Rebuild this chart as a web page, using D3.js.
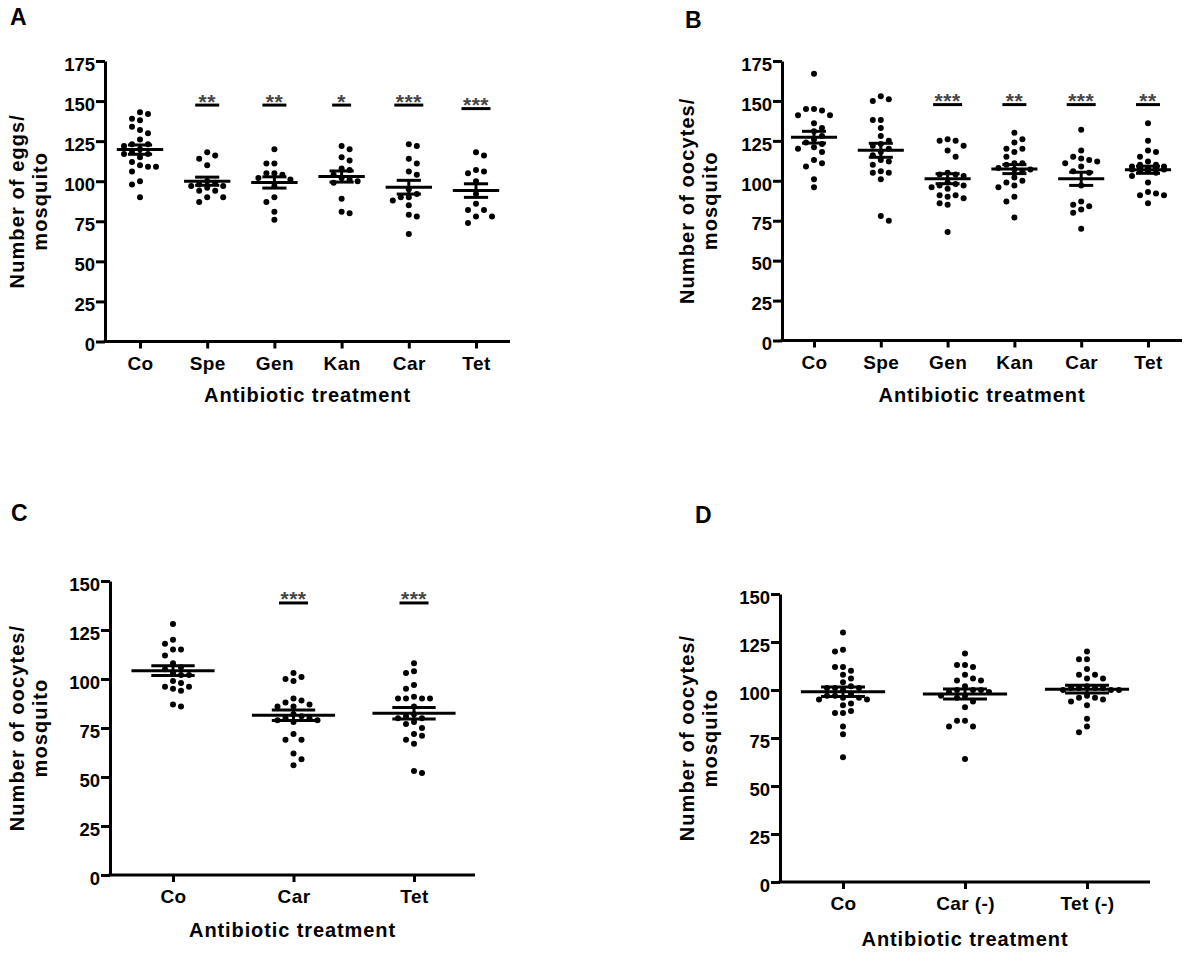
<!DOCTYPE html>
<html><head><meta charset="utf-8">
<script src="https://cdn.jsdelivr.net/npm/d3@7"></script>
<style>
body{margin:0;background:#fff}
text{font-family:"Liberation Sans",Arial,Helvetica,sans-serif;font-weight:bold}
</style>
</head><body>
<svg id="chart" width="1200" height="954"></svg>
<script>
// ---------- DATA ----------
const categoriesA = ["Co","Spe","Gen","Kan","Car","Tet"];
const categoriesB = ["Co","Spe","Gen","Kan","Car","Tet"];
const categoriesC = ["Co","Car","Tet"];
const categoriesD = ["Co","Car (-)","Tet (-)"];

const ticksAB = [0,25,50,75,100,125,150,175];
const ticksCD = [0,25,50,75,100,125,150];

// Panel A: number of eggs / mosquito
const eggsCo  = [143,142,139,138,134,132,130,126,123,123,122,120,118,117,117,115,112,110,109,109,106,100,98,90];
const eggsSpe = [118,116,114,110,100,99,98,97,97,96,94,94,90,90,87];
const eggsGen = [120,111,111,105,105,104,102,101,97,90,87,81,76];
const eggsKan = [122,120,115,113,108,107,104,102,101,100,99,89,81,80];
const eggsCar = [123,122,114,111,106,104,95,92,90,90,88,85,79,78,67];
const eggsTet = [118,116,107,106,105,100,92,86,82,82,78,78,74];
const signifA = ["","**","**","*","***","***"];

// Panel B: number of oocytes / mosquito
const oocB_Co  = [167,145,145,144,141,141,136,133,131,128,126,124,123,121,120,118,113,111,109,101,96];
const oocB_Spe = [153,151,150,138,138,133,128,125,123,122,120,118,116,113,112,110,106,105,105,101,78,75];
const oocB_Gen = [126,125,125,122,119,115,105,104,104,103,99,98,97,97,96,95,91,91,90,89,86,85,68];
const oocB_Kan = [130,126,124,120,120,118,115,111,111,110,108,107,107,106,102,100,99,97,96,90,87,77];
const oocB_Car = [132,119,115,114,113,112,111,109,106,105,97,87,85,84,82,80,70];
const oocB_Tet = [136,125,119,118,115,112,110,110,109,109,108,108,108,107,107,106,106,105,103,99,93,92,91,91,86];
const signifB = ["","","***","**","***","**"];

// Panel C
const oocC_Co  = [128,120,118,115,115,112,108,106,105,103,102,102,99,98,96,96,95,94,87,86];
const oocC_Car = [103,101,100,99,90,89,88,87,86,86,82,81,80,80,79,79,78,72,69,69,62,59,56];
const oocC_Tet = [108,104,103,97,95,91,90,90,90,90,86,82,81,80,80,78,77,75,72,71,69,67,53,52];
const signifC = ["","***","***"];

// Panel D
const oocD_Co  = [130,121,120,112,112,110,108,106,104,102,101,101,101,100,98,97,97,96,96,95,95,93,92,89,88,88,81,77,65];
const oocD_Car = [119,113,113,112,108,106,105,105,102,100,100,100,99,99,97,97,96,94,91,84,84,81,81,64];
const oocD_Tet = [120,116,116,111,108,108,106,106,102,101,101,101,101,100,100,100,97,96,96,95,94,92,85,81,78];
const signifD = ["","",""];

const yTitleA = ["Number of eggs/","mosquito"];
const yTitleOoc = ["Number of oocytes/","mosquito"];
const xTitle = "Antibiotic treatment";

// ---------- LAYOUT ----------
const panels = [
  {letter:"A", lx:10, ly:25, cats:categoriesA, values:[eggsCo,eggsSpe,eggsGen,eggsKan,eggsCar,eggsTet], sig:signifA, sigLevel:[147.5,147.5,147.5,147.5,147.5,145.3],
   max:175, ticks:ticksAB, xAxis:[105,510], catRange:[140,476], yBottom:341.5, yTop:61, yTitle:yTitleA, ytx:[24,47], xtY:402},
  {letter:"B", lx:685, ly:28, cats:categoriesB, values:[oocB_Co,oocB_Spe,oocB_Gen,oocB_Kan,oocB_Car,oocB_Tet], sig:signifB, sigLevel:[147.7,147.7,147.7,147.7,147.7,147.7],
   max:175, ticks:ticksAB, xAxis:[782,1182], catRange:[814,1148], yBottom:340.5, yTop:61, yTitle:yTitleOoc, ytx:[694,717], xtY:402},
  {letter:"C", lx:11, ly:521, cats:categoriesC, values:[oocC_Co,oocC_Car,oocC_Tet], sig:signifC, sigLevel:[138.8,138.8,138.8],
   max:150, ticks:ticksCD, xAxis:[110,475], catRange:[173,414], yBottom:875, yTop:581, yTitle:yTitleOoc, ytx:[24,47], xtY:937},
  {letter:"D", lx:695, ly:523, cats:categoriesD, values:[oocD_Co,oocD_Car,oocD_Tet], sig:signifD, sigLevel:[0,0,0],
   max:150, ticks:ticksCD, xAxis:[780,1150], catRange:[843,1087], yBottom:882, yTop:594, yTitle:yTitleOoc, ytx:[694,717], xtY:946}
];

const svg = d3.select("#chart");
svg.append("rect").attr("width",1200).attr("height",954).attr("fill","#fff");

// simple beeswarm: columns on an 8px grid, limited width
function swarm(vals, y, cx, step, diam, maxK){
  const pts = vals.map(v=>({v, y:y(v)})).sort((a,b)=>a.y-b.y);
  const placed = [];
  pts.forEach((p,i)=>{
    let best = null, bestCost = Infinity;
    for(let k=0;k<=maxK && best===null;k++){
      const cands = k===0 ? [0] : (i%2 ? [k*step,-k*step] : [-k*step,k*step]);
      for(const dx of cands){
        let minD = Infinity;
        placed.forEach(q=>{const d=Math.hypot(q.dx-dx,q.y-p.y); if(d<minD)minD=d;});
        if(minD >= diam){best=dx;break;}
        const cost = -minD + Math.abs(dx)*0.05;
        if(cost<bestCost){bestCost=cost;p._alt=dx;}
      }
    }
    p.dx = best!==null ? best : p._alt;
    placed.push(p);
  });
  return pts.map(p=>({cx:cx+p.dx, cy:p.y}));
}

panels.forEach(p=>{
  const g = svg.append("g");
  const y = d3.scaleLinear().domain([0,p.max]).range([p.yBottom,p.yTop]);
  const x = d3.scalePoint().domain(p.cats).range(p.catRange);
  const step = x.step();

  // y axis
  const ya = g.append("g").attr("transform",`translate(${p.xAxis[0]},0)`)
    .call(d3.axisLeft(y).tickValues(p.ticks).tickSize(9).tickSizeOuter(0).tickPadding(1));
  ya.attr("font-size",18.5).attr("font-family",null);
  ya.select(".domain").attr("stroke","#000").attr("stroke-width",3);
  ya.selectAll(".tick line").attr("stroke","#000").attr("stroke-width",3);
  ya.selectAll(".tick text").attr("fill","#000").attr("dy","0.5em");

  // x axis
  const xa = g.append("g").attr("transform",`translate(0,${p.yBottom})`)
    .call(d3.axisBottom(x).tickSize(7).tickSizeOuter(0).tickPadding(8));
  xa.attr("font-size",19).attr("font-family",null);
  xa.select(".domain").remove();
  xa.selectAll(".tick line").attr("stroke","#000").attr("stroke-width",3);
  xa.selectAll(".tick text").attr("fill","#000").attr("letter-spacing",0.4);
  g.append("line").attr("x1",p.xAxis[0]-1.5).attr("x2",p.xAxis[1])
    .attr("y1",p.yBottom).attr("y2",p.yBottom).attr("stroke","#000").attr("stroke-width",3);

  // dots, mean and SEM
  p.values.forEach((vals,i)=>{
    const cx = x(p.cats[i]);
    const pts = swarm(vals, y, cx, 8, 7.4, Math.max(2, Math.floor(step*0.32/8)));
    g.append("g").selectAll("circle").data(pts).join("circle")
      .attr("cx",d=>d.cx).attr("cy",d=>d.cy).attr("r",3).attr("fill","#000");
    const m = d3.mean(vals), se = d3.deviation(vals)/Math.sqrt(vals.length);
    const mw = step*0.69/2, sw = step*0.36/2;
    g.append("line").attr("x1",cx-mw).attr("x2",cx+mw).attr("y1",y(m)).attr("y2",y(m)).attr("stroke","#000").attr("stroke-width",3);
    [m-se,m+se].forEach(v=>g.append("line").attr("x1",cx-sw).attr("x2",cx+sw).attr("y1",y(v)).attr("y2",y(v)).attr("stroke","#000").attr("stroke-width",3));
    g.append("line").attr("x1",cx).attr("x2",cx).attr("y1",y(m-se)).attr("y2",y(m+se)).attr("stroke","#000").attr("stroke-width",3);

    // significance
    const s = p.sig[i];
    if(s){
      const ly = y(p.sigLevel[i]);
      const w = 14 + 5*s.length;
      g.append("text").attr("x",cx).attr("y",ly+3.5).attr("text-anchor","middle")
        .attr("font-size",21).attr("letter-spacing",0.5).attr("fill","#444").text(s);
      g.append("line").attr("x1",cx-w/2).attr("x2",cx+w/2).attr("y1",ly).attr("y2",ly).attr("stroke","#000").attr("stroke-width",3);
    }
  });

  // titles
  const cy = (p.yBottom+p.yTop)/2;
  p.yTitle.forEach((t,k)=>{
    g.append("text").attr("transform",`translate(${p.ytx[k]},${cy}) rotate(-90)`)
      .attr("text-anchor","middle").attr("font-size",20).attr("letter-spacing",1.1).attr("fill","#000").text(t);
  });
  g.append("text").attr("x",(p.xAxis[0]+p.xAxis[1])/2).attr("y",p.xtY).attr("text-anchor","middle")
    .attr("font-size",20).attr("letter-spacing",0.9).attr("fill","#000").text(xTitle);
  g.append("text").attr("x",p.lx).attr("y",p.ly).attr("font-size",23).attr("fill","#000").text(p.letter);
});
</script>
</body></html>
